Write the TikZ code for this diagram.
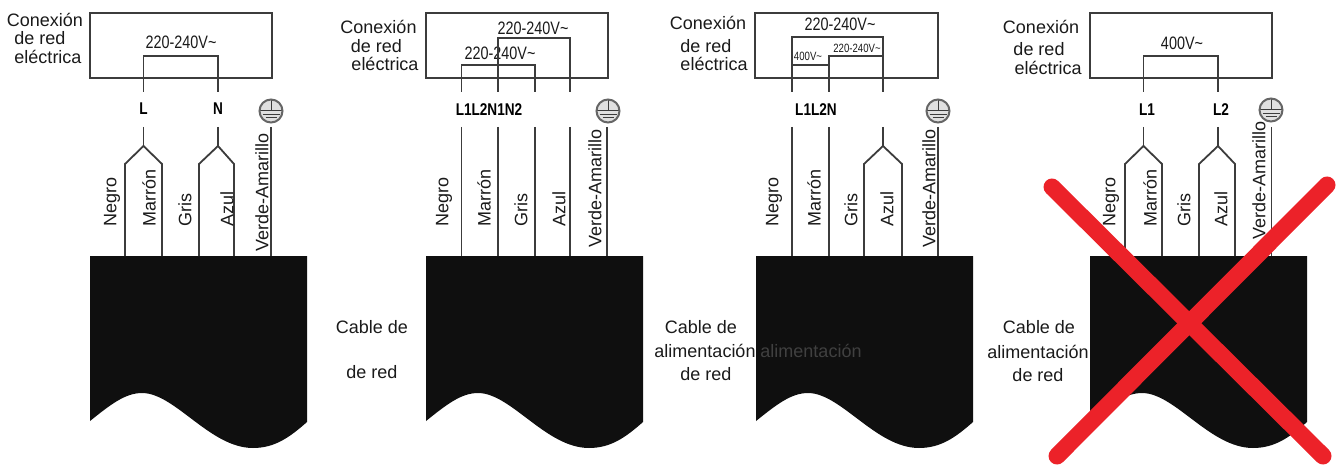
\documentclass[tikz,border=0pt]{standalone}
\usepackage{fontspec}
\setmainfont{Liberation Sans}
\newfontfamily\narrowfont[FakeStretch=0.8]{Liberation Sans}
\usetikzlibrary{positioning}
\definecolor{wirecol}{HTML}{3C3C3C}
\definecolor{textcol}{HTML}{1A1A1A}
\definecolor{crosscol}{HTML}{EC2229}

\tikzset{
    wire/.style={draw=wirecol, line width=1.8pt, line join=miter},
    panelbox/.style={draw=wirecol, line width=1.8pt},
    txt/.style={text=textcol, inner sep=0pt, font=\fontsize{18}{20}\selectfont},
    volt/.style={text=textcol, inner sep=0pt, font=\narrowfont\fontsize{18}{20}\selectfont},
    voltsmall/.style={text=textcol, inner sep=0pt, font=\narrowfont\fontsize{12}{14}\selectfont},
    term/.style={text=black, inner sep=0pt, font=\narrowfont\bfseries\fontsize{17}{20}\selectfont},
    colour/.style={txt, rotate=90, anchor=west},
    earth/.style={circle, draw=black!60, line width=2pt, fill=black!12, minimum size=23pt, inner sep=0pt,
        path picture={
            \draw[wirecol, line width=1pt] (path picture bounding box.north) -- (path picture bounding box.center);
            \draw[wirecol, line width=1pt] (path picture bounding box.west) -- (path picture bounding box.east);
            \draw[wirecol, line width=1pt] ([xshift=3pt,yshift=-4pt]path picture bounding box.west) -- ([xshift=-3pt,yshift=-4pt]path picture bounding box.east);
            \draw[wirecol, line width=1pt] ([xshift=6pt,yshift=-7pt]path picture bounding box.west) -- ([xshift=-6pt,yshift=-7pt]path picture bounding box.east);
        }},
    cross/.style={draw=crosscol, line width=17pt, line cap=round},
}

% straight lead from the terminal row down to the cable
\newcommand{\leadwire}[2]{
    \coordinate (#1t) at (#2,127);
    \coordinate (#1b) at (#2,256);
    \draw[wire] (#1t) -- (#1b);
}
% lead that splits in two above the cable
\newcommand{\forkwire}[4]{
    \coordinate (#1t) at (#2,127);
    \coordinate (#1f) at (#2,146);
    \coordinate (#1l) at (#3,256);
    \coordinate (#1r) at (#4,256);
    \draw[wire] (#1t) -- (#1f);
    \draw[wire] (#1l) -- (#3,164) -- (#1f) -- (#4,164) -- (#1r);
}
% black cable end with wavy cut
\newcommand{\cablebody}[1]{
    \fill[black!94, shift={(#1,0)}] (0,256) -- (217,256) -- (217,422)
        .. controls (200,437) and (185,448) .. (163,448)
        .. controls (120,448) and (85,393) .. (52,393)
        .. controls (35,393) and (20,405) .. (0,421) -- cycle;
}

\begin{document}
\begin{tikzpicture}[x=1pt, y=-1pt]
    \useasboundingbox (0,0) rectangle (1343,473);

    % Cable ends
    \cablebody{90}
    \cablebody{426}
    \cablebody{756}
    \cablebody{1090}

    % Panel 1
    \node[panelbox, minimum width=182pt, minimum height=65pt, inner sep=0pt] (boxa) at (181,45.5) {};
    \node[txt] (cona) at (45,20) {Conexión};
    \node[txt] (reda) at (40,38) {de red};
    \node[txt] (elea) at (48,57) {eléctrica};
    \node[volt] (va) at (181,42) {220-240V\textasciitilde};
    \coordinate (aL) at (143.5,92);
    \coordinate (aN) at (218,92);
    \draw[wire] (aL) -- (143.5,56) -- (218,56) -- (aN);
    \node[term] (La) at (143.5,109) {L};
    \node[term] (Na) at (218,109) {N};
    \node[earth] (ea) at (271,111) {};
    \forkwire{al}{143.5}{125}{162}
    \forkwire{an}{218}{199}{234}
    \leadwire{ag}{271}
    \node[colour] (nega) at (112,227) {Negro};
    \node[colour] (mara) at (149,227) {Marrón};
    \node[colour] (gria) at (185,227) {Gris};
    \node[colour] (azua) at (227,227) {Azul};
    \node[colour] (vera) at (262,252) {Verde-Amarillo};

    % Panel 2
    \node[panelbox, minimum width=182pt, minimum height=65pt, inner sep=0pt] (boxb) at (517,45.5) {};
    \node[txt] (conb) at (378.5,27) {Conexión};
    \node[txt] (redb) at (376.5,46) {de red};
    \node[txt] (eleb) at (385,64) {eléctrica};
    \node[volt] (vb1) at (533,28) {220-240V\textasciitilde};
    \node[volt] (vb2) at (500,53) {220-240V\textasciitilde};
    \coordinate (bA) at (461.5,92);
    \coordinate (bB) at (498,92);
    \coordinate (bC) at (535,92);
    \coordinate (bD) at (570,92);
    \draw[wire] (bA) -- (461.5,65) -- (535,65) -- (bC);
    \draw[wire] (bB) -- (498,38) -- (570,38) -- (bD);
    \node[term] (Lb) at (489,110) {L1L2N1N2};
    \node[earth] (eb) at (608,111) {};
    \leadwire{ba}{461.5}
    \leadwire{bb}{498}
    \leadwire{bc}{535}
    \leadwire{bd}{570}
    \leadwire{bg}{607}
    \node[colour] (negb) at (444,227) {Negro};
    \node[colour] (marb) at (484,227) {Marrón};
    \node[colour] (grib) at (521,227) {Gris};
    \node[colour] (azub) at (559,227) {Azul};
    \node[colour] (verb) at (595,248) {Verde-Amarillo};
    \node[txt] (cabb) at (372,327) {Cable de};
    \node[txt] (derb) at (372,372) {de red};

    % Panel 3
    \node[panelbox, minimum width=183pt, minimum height=65pt, inner sep=0pt] (boxc) at (846.5,45.5) {};
    \node[txt] (conc) at (708,23) {Conexión};
    \node[txt] (redc) at (706,46) {de red};
    \node[txt] (elec) at (714,64) {eléctrica};
    \node[volt] (vc1) at (840,24) {220-240V\textasciitilde};
    \node[voltsmall] (vc2) at (808,56) {400V\textasciitilde};
    \node[voltsmall] (vc3) at (857,48) {220-240V\textasciitilde};
    \coordinate (cA) at (792,92);
    \coordinate (cB) at (829,92);
    \coordinate (cC) at (883,92);
    \draw[wire] (cA) -- (792,37) -- (883,37) -- (cC);
    \draw[wire] (792,65) -- (829,65);
    \draw[wire] (cB) -- (829,56) -- (883,56);
    \node[term] (Lc) at (816,110) {L1L2N};
    \node[earth] (ec) at (938,111) {};
    \leadwire{ca}{792}
    \leadwire{cb}{829}
    \forkwire{cc}{883}{864}{902}
    \leadwire{cg}{938}
    \node[colour] (negc) at (774,227) {Negro};
    \node[colour] (marc) at (814,227) {Marrón};
    \node[colour] (gric) at (851,227) {Gris};
    \node[colour] (azuc) at (887,227) {Azul};
    \node[colour] (verc) at (929,248) {Verde-Amarillo};
    \node[txt] (cabc) at (701,327) {Cable de};
    \node[txt] (alic) at (705,351) {alimentación};
    \node[txt, text=black!75] (alid) at (811,351) {alimentación};
    \node[txt] (derc) at (706,374) {de red};

    % Panel 4
    \node[panelbox, minimum width=182pt, minimum height=65pt, inner sep=0pt] (boxd) at (1181,45.5) {};
    \node[txt] (cond) at (1041,27) {Conexión};
    \node[txt] (redd) at (1039,49) {de red};
    \node[txt] (eled) at (1048,68) {eléctrica};
    \node[volt] (vd) at (1182,43) {400V\textasciitilde};
    \coordinate (dL) at (1143.5,92);
    \coordinate (dN) at (1218,92);
    \draw[wire] (dL) -- (1143.5,56) -- (1218,56) -- (dN);
    \node[term] (Ld) at (1147,110) {L1};
    \node[term] (Nd) at (1221,110) {L2};
    \node[earth] (ed) at (1271,110) {};
    \forkwire{dl}{1143.5}{1125}{1162}
    \forkwire{dn}{1218}{1199}{1235}
    \leadwire{dg}{1271.5}
    \node[colour] (negd) at (1111,227) {Negro};
    \node[colour] (mard) at (1150,227) {Marrón};
    \node[colour] (grid) at (1184,227) {Gris};
    \node[colour] (azud) at (1221,227) {Azul};
    \node[colour] (verd) at (1259,240) {Verde-Amarillo};
    \node[txt] (cabd) at (1039,327) {Cable de};
    \node[txt] (alie) at (1038,352) {alimentación};
    \node[txt] (dere) at (1038,375) {de red};

    % Red cross
    \coordinate (xa) at (1052,187);
    \coordinate (xb) at (1323,456);
    \coordinate (xc) at (1327,185);
    \coordinate (xd) at (1057,456);
    \draw[cross] (xa) -- (xb);
    \draw[cross] (xc) -- (xd);
\end{tikzpicture}
\end{document}
